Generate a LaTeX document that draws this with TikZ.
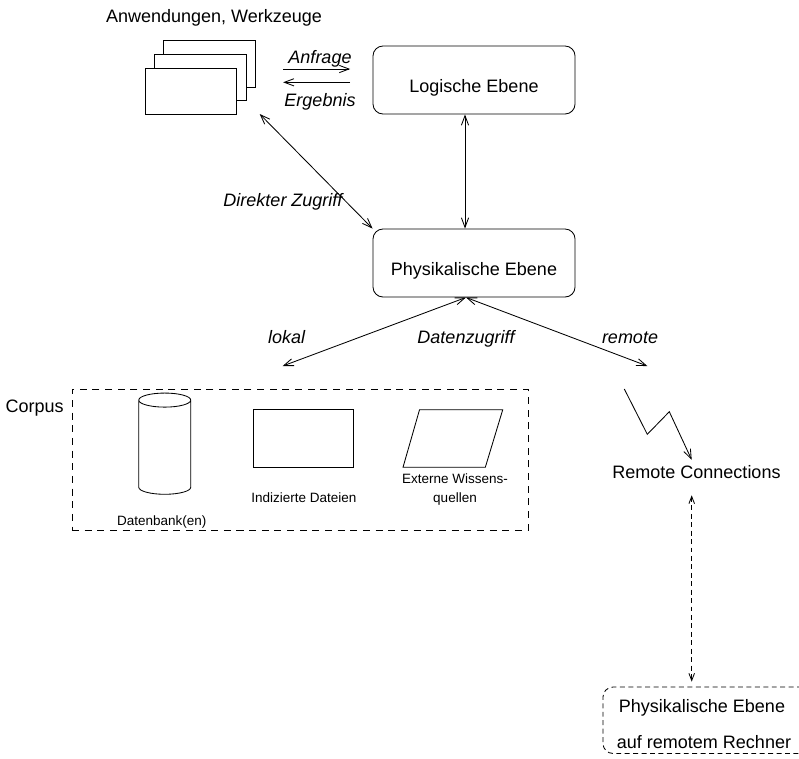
\documentclass[tikz,border=0pt]{standalone}
\usepackage{fontspec}
\setmainfont{Liberation Sans}
\usetikzlibrary{shapes.geometric,arrows.meta,positioning,calc}

\begin{document}
\begin{tikzpicture}[
    x=0.025cm, y=-0.025cm, line width=0.6pt,
    font=\fontsize{12.8}{15}\selectfont,
    box/.style={rectangle, draw, rounded corners=0.25cm, minimum width=5.05cm, minimum height=1.7cm, text height=18pt, text depth=0pt},
    doc/.style={rectangle, draw, fill=white, minimum width=2.28cm, minimum height=1.16cm},
    txt/.style={anchor=base},
    lbl/.style={anchor=base, font=\fontsize{12.8}{15}\selectfont\itshape},
    small/.style={anchor=base, font=\fontsize{9.6}{13.5}\selectfont, align=center},
    arrow/.style={->, >={Straight Barb[length=2.4mm,width=1.8mm]}},
    darrow/.style={<->, >={Straight Barb[length=2.4mm,width=1.8mm]}},
    dasharrow/.style={<->, >={Straight Barb[length=1.8mm,width=1.4mm]}, dash pattern=on 3.5pt off 2.5pt}
]
    \useasboundingbox (0,0) rectangle (799,758);

    \node[txt] (apps) at (214,22.7) {Anwendungen, Werkzeuge};
    \node[doc] (app3) at (209.5,64) {};
    \node[doc] (app2) at (200.5,77.5) {};
    \node[doc] (app1) at (191,91.5) {};

    \node[box] (log) at (474,80) {Logische Ebene};
    \node[box] (phys) at (474,263) {Physikalische Ebene};

    \coordinate (q1) at (0,69);
    \coordinate (q2) at (0,82.3);
    \draw[arrow, shorten <=0.69cm, shorten >=0.56cm] (app3.east |- q1) -- (log.west |- q1);
    \draw[arrow, shorten <=0.56cm, shorten >=0.69cm] (log.west |- q2) -- (app3.east |- q2);
    \node[lbl] (anfrage) at (320,63.3) {Anfrage};
    \node[lbl] (ergebnis) at (320,106.7) {Ergebnis};

    \draw[darrow] ([xshift=-0.225cm]log.south) -- ([xshift=-0.225cm]phys.north);

    \coordinate (dz) at (259.7,114);
    \draw[darrow] (dz) -- (phys.north west);
    \node[lbl] (direkt) at (283,206) {Direkter Zugriff};

    \coordinate (lk) at (282.7,366);
    \coordinate (rm) at (647.3,366);
    \draw[darrow] ([xshift=-0.2cm]phys.south) -- (lk);
    \draw[darrow] ([xshift=-0.2cm]phys.south) -- (rm);
    \node[lbl] (lokal) at (286.7,343) {lokal};
    \node[lbl] (zugriff) at (466,343) {Datenzugriff};
    \node[lbl] (remote) at (630,343) {remote};

    \node[rectangle, draw, dash pattern=on 5pt off 4pt, minimum width=11.4cm, minimum height=3.51cm] (corpus) at (300,459.8) {};
    \node[txt] (corpuslbl) at (34.7,412.5) {Corpus};

    \node[cylinder, draw, shape border rotate=90, aspect=1.5, minimum width=1.3cm, minimum height=2.53cm] (db) at (164.75,449.4) {};
    \node[small] (dblbl) at (161.7,525.5) {Datenbank(en)};

    \node[rectangle, draw, minimum width=2.5cm, minimum height=1.44cm] (files) at (303.4,438.5) {};
    \node[small] (fileslbl) at (304,502) {Indizierte Dateien};

    \draw (419.5,409.8) -- (502.7,409.8) -- (485.3,467.3) -- (403,467.3) -- cycle;
    \node[small] (extlbl) at (455,502) {Externe Wissens-\\quellen};

    \node[txt] (rc) at (696.5,478) {Remote Connections};
    \coordinate (rlink) at (691.7,0);
    \draw[arrow] (624.3,389) coordinate (lz1) -- (647.3,434.3) coordinate (lz2) -- (669.3,411.7) coordinate (lz3) -- (rc.north -| rlink);

    \node[rectangle, draw, rounded corners=0.25cm, dash pattern=on 3.5pt off 2.5pt, minimum width=5.225cm, minimum height=1.66cm] (rbox) at (707.5,720.25) {};
    \node[txt] (rphys) at (702,712) {Physikalische Ebene};
    \node[txt] (rrech) at (704,748) {auf remotem Rechner};
    \draw[dasharrow, shorten <=0.3cm, shorten >=0.125cm] (rc.south -| rlink) -- (rbox.north -| rlink);
\end{tikzpicture}
\end{document}
